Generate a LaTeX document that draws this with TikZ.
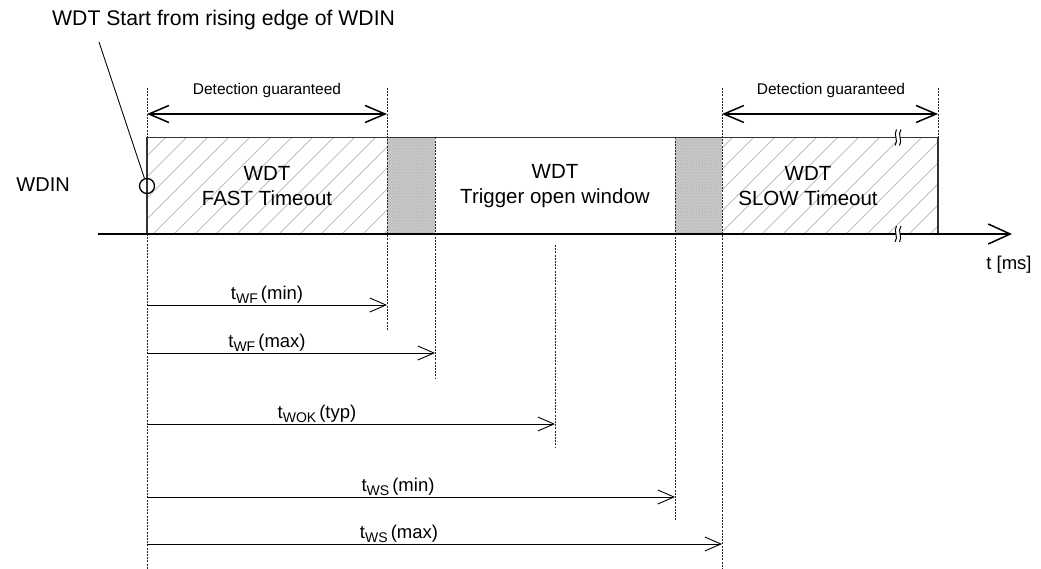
\documentclass[tikz,border=0pt]{standalone}
\usepackage{fontspec}
\setmainfont{Liberation Sans}
\usetikzlibrary{arrows.meta,patterns}
\newcommand{\tsub}[1]{\raisebox{-0.4ex}{\fontsize{14}{14}\selectfont #1}}
\begin{document}
\begin{tikzpicture}[x=1pt,y=-1pt,
  guide/.style={line width=0.8pt, dash pattern=on 2pt off 1.2pt, black!85},
  hatchline/.style={gray!50, line width=1pt},
  greyfill/.style={fill=gray!45},
  det/.style={line width=1.8pt, {Straight Barb[length=20pt,width=17pt,line width=1.5pt]}-{Straight Barb[length=20pt,width=17pt,line width=1.5pt]}},
  tarrow/.style={line width=0.9pt, -{Straight Barb[length=16pt,width=14pt,line width=0.9pt]}},
  lbl/.style={font=\fontsize{18.5}{20}\selectfont, inner sep=0pt, anchor=south},
  boxtxt/.style={font=\fontsize{20.5}{25}\selectfont, align=center, inner sep=0pt},
  dettxt/.style={font=\fontsize{15.5}{18}\selectfont, inner sep=0pt},
  bigtxt/.style={font=\fontsize{20}{24}\selectfont, inner sep=0pt},
  breakmark/.style={line width=1pt, black}
]
\useasboundingbox (0,0) rectangle (1041,569);

% hatched regions
\begin{scope}
  \clip (147,137.5) rectangle (387,234) (722,137.5) rectangle (938,234);
  \foreach \x in {-120,-99,...,960} {
    \draw[hatchline] (\x,234) -- ++(96,-96);
  }
\end{scope}
% grey regions
\fill[greyfill] (387,137.5) rectangle (435,234);
\fill[greyfill] (675,137.5) rectangle (722,234);
\fill[pattern=dots, pattern color=gray!75] (387,137.5) rectangle (435,234);
\fill[pattern=dots, pattern color=gray!75] (675,137.5) rectangle (722,234);

% box outline
\draw[line width=1.2pt, black!80] (147,234) -- (147,137.5) -- (938,137.5) -- (938,234);

% guide lines
\draw[guide] (147,88) -- (147,137.5);
\draw[guide] (147,234) -- (147,569);
\draw[guide] (387,88) -- (387,330);
\draw[guide] (435,137.5) -- (435,378);
\draw[guide] (555,245) -- (555,448);
\draw[guide] (675,137.5) -- (675,520);
\draw[guide] (722,88) -- (722,569);
\draw[guide] (938,88) -- (938,137.5);

% time axis
\coordinate (ax0) at (98,234);
\coordinate (ax1) at (1012,234);
\draw[line width=1.8pt, -{Straight Barb[length=22pt,width=20pt,line width=1.5pt]}] (ax0) -- (ax1);
\node[bigtxt, font=\fontsize{18.5}{20}\selectfont] (tms) at (1009,265) {t [ms]};

% break marks
\foreach \y/\n in {137.5/bt,234/bb} {
  \coordinate (\n) at (898,\y);
  \fill[white] ([xshift=-2.5pt,yshift=-7pt]\n) rectangle ([xshift=2pt,yshift=7pt]\n);
  \draw[breakmark] ([xshift=-3pt,yshift=-8pt]\n) .. controls ([xshift=1pt,yshift=-3pt]\n) and ([xshift=-5pt,yshift=3pt]\n) .. ([xshift=-1.5pt,yshift=8pt]\n);
  \draw[breakmark] ([xshift=1.5pt,yshift=-8pt]\n) .. controls ([xshift=5pt,yshift=-3pt]\n) and ([xshift=-1pt,yshift=3pt]\n) .. ([xshift=3pt,yshift=8pt]\n);
}

% detection guaranteed
\coordinate (d1a) at (147,114);
\coordinate (d1b) at (387,114);
\coordinate (d2a) at (722,114);
\coordinate (d2b) at (938,114);
\draw[det] (d1a) -- (d1b);
\draw[det] (d2a) -- (d2b);
\node[dettxt] (dg1) at (267,90) {Detection guaranteed};
\node[dettxt] (dg2) at (831,90) {Detection guaranteed};

% box texts
\node[boxtxt] (fast) at (267,186) {WDT\\FAST Timeout};
\node[boxtxt] (open) at (555,186) {WDT\\Trigger open window};
\node[boxtxt] (slow) at (808,186) {WDT\\SLOW Timeout};

% WDIN and start marker
\node[bigtxt, anchor=east] (wdin) at (70,185) {WDIN};
\node[draw, circle, line width=1.3pt, minimum size=15pt, inner sep=0pt] (start) at (147,186) {};
\node[bigtxt, font=\fontsize{21.2}{24}\selectfont, anchor=west] (title) at (52,20) {WDT Start from rising edge of WDIN};
\coordinate (lead) at (99,42);
\draw[line width=0.8pt] (lead) -- (start);

% timing arrows
\coordinate (a1) at (147,305); \coordinate (b1) at (387,305);
\coordinate (a2) at (147,353); \coordinate (b2) at (435,353);
\coordinate (a3) at (147,424); \coordinate (b3) at (555,424);
\coordinate (a4) at (147,497); \coordinate (b4) at (675,497);
\coordinate (a5) at (147,544); \coordinate (b5) at (722,544);
\draw[tarrow] (a1) -- (b1);
\draw[tarrow] (a2) -- (b2);
\draw[tarrow] (a3) -- (b3);
\draw[tarrow] (a4) -- (b4);
\draw[tarrow] (a5) -- (b5);
\node[lbl] (l1) at (267,304) {t\tsub{WF}\,(min)};
\node[lbl] (l2) at (267,352) {t\tsub{WF}\,(max)};
\node[lbl] (l3) at (317,423) {t\tsub{WOK}\,(typ)};
\node[lbl] (l4) at (398,496) {t\tsub{WS}\,(min)};
\node[lbl] (l5) at (399,543) {t\tsub{WS}\,(max)};
\end{tikzpicture}
\end{document}
